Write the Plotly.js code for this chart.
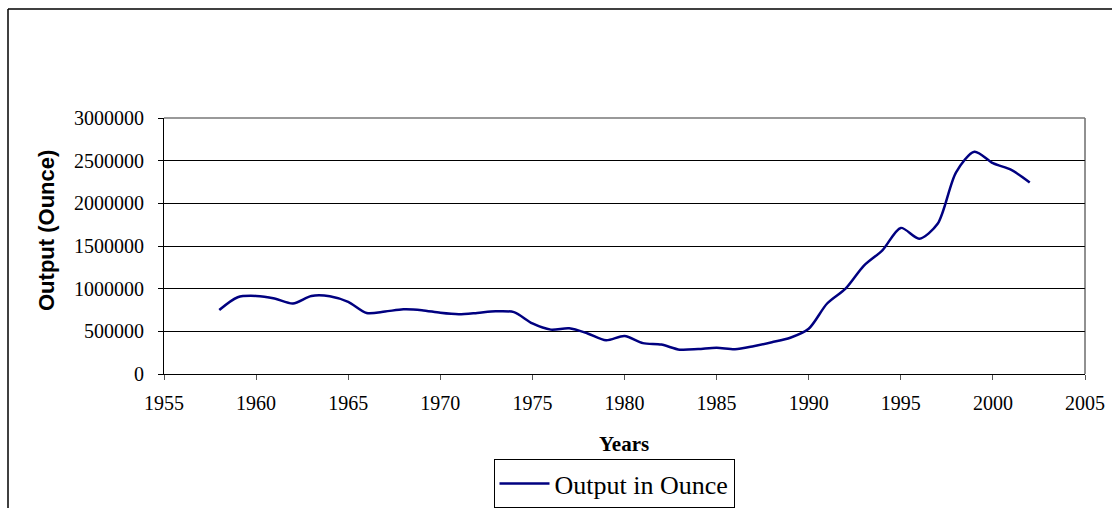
<!DOCTYPE html>
<html>
<head>
<meta charset="utf-8">
<script src="https://cdn.plot.ly/plotly-3.0.1.min.js"></script>
<style>html,body{margin:0;padding:0;background:#fff;}#chart{width:1112px;height:508px;}</style>
</head>
<body>
<div id="chart"></div>
<script>
const years = [1958,1959,1960,1961,1962,1963,1964,1965,1966,1967,1968,1969,1970,1971,1972,1973,1974,1975,1976,1977,1978,1979,1980,1981,1982,1983,1984,1985,1986,1987,1988,1989,1990,1991,1992,1993,1994,1995,1996,1997,1998,1999,2000,2001,2002];
const output = [750000,900000,915000,885000,826000,915000,912000,845000,715000,732000,758000,748000,717000,700000,715000,735000,725000,592000,520000,535000,475000,395000,445000,362000,345000,285000,292000,308000,290000,325000,372000,425000,530000,826000,1000000,1270000,1449000,1712000,1586000,1760000,2364000,2605000,2470000,2392000,2245000];
const seriesName = 'Output in Ounce';
const xTitle = 'Years';
const yTitle = 'Output (Ounce)';

const L = 164, R = 1085, T = 118, B = 374;
const pw = R - L, ph = B - T;
const px = v => (v - L) / pw;
const py = v => (B - v) / ph;

const trace = {
  x: years, y: output, type: 'scatter', mode: 'lines', name: seriesName,
  line: {color: '#000080', width: 2.5, shape: 'spline', smoothing: 0.8}
};

const layout = {
  width: 1112, height: 508,
  margin: {l: L, r: 1112 - R, t: T, b: 508 - B, autoexpand: false},
  paper_bgcolor: '#fff', plot_bgcolor: '#fff',
  showlegend: true,
  font: {family: 'Liberation Serif', size: 16, color: '#000'},
  xaxis: {
    range: [1955, 2005], dtick: 5, tick0: 1955, showgrid: false, zeroline: false,
    showline: true, linecolor: '#000', linewidth: 1, mirror: false,
    ticks: 'outside', ticklen: 5, tickcolor: '#555', tickwidth: 1,
    ticklabelstandoff: 6,
    tickfont: {family: 'Liberation Serif', size: 20, color: '#000'}
  },
  yaxis: {
    range: [0, 3000000], dtick: 500000, tickformat: 'd', showgrid: true, gridcolor: '#000', gridwidth: 1,
    zeroline: false, showline: true, linecolor: '#000', linewidth: 1,
    ticks: 'outside', ticklen: 5, tickcolor: '#000', tickwidth: 1,
    ticklabelstandoff: 10,
    tickfont: {family: 'Liberation Serif', size: 20, color: '#000'}
  },
  annotations: [
    {text: '<b>' + yTitle + '</b>', xref: 'paper', yref: 'paper', x: px(46), y: py(231), xanchor: 'center', yanchor: 'middle',
     textangle: -90, showarrow: false, font: {family: 'Liberation Sans', size: 22, color: '#000'}},
    {text: '<b>' + xTitle + '</b>', xref: 'paper', yref: 'paper', x: px(624), y: py(444), xanchor: 'center', yanchor: 'middle',
     showarrow: false, font: {family: 'Liberation Serif', size: 21, color: '#000'}}
  ],
  legend: {
    x: px(614), y: py(459), xanchor: 'center', yanchor: 'top',
    bordercolor: '#000', borderwidth: 1, bgcolor: '#fff',
    font: {family: 'Liberation Serif', size: 26, color: '#000'},
    itemwidth: 50
  },
  shapes: [
    {type: 'line', xref: 'paper', yref: 'paper', x0: px(R), x1: px(R), y0: 0, y1: 1, line: {color: '#222', width: 1}},
    {type: 'line', xref: 'paper', yref: 'paper', x0: 0, x1: 1, y0: 1, y1: 1, line: {color: '#777', width: 1.5}},
    {type: 'line', xref: 'paper', yref: 'paper', x0: px(8), x1: px(1115), y0: py(9), y1: py(9), line: {color: '#000', width: 1.5}},
    {type: 'line', xref: 'paper', yref: 'paper', x0: px(8), x1: px(8), y0: py(9), y1: py(515), line: {color: '#000', width: 1.5}}
  ]
};

Plotly.newPlot('chart', [trace], layout, {displayModeBar: false, staticPlot: true});
</script>
</body>
</html>
